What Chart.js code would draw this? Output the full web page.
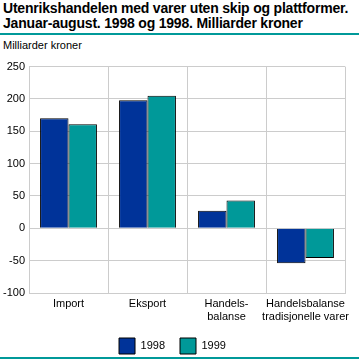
<!DOCTYPE html>
<html>
<head>
<meta charset="utf-8">
<script src="https://cdn.jsdelivr.net/npm/chart.js@4"></script>
<style>
  body { margin: 0; width: 359px; height: 361px; background: #fff; position: relative; overflow: hidden; font-family: "Liberation Sans", Arial, sans-serif; }
  #title { position: absolute; left: 0; top: 1px; width: 359px; padding-left: 3px; box-sizing: border-box;
           font-weight: bold; font-size: 14px; line-height: 15px; color: #000; letter-spacing: -0.2px;
           border-bottom: 2px solid #009999; padding-bottom: 2px; }
  #unit { position: absolute; left: 3px; top: 39px; font-size: 11px; color: #000; }
  #wrap { position: absolute; left: 0; top: 56px; width: 359px; height: 308px; }
  #bottomline { position: absolute; left: 0; top: 357px; width: 359px; height: 2px; background: #009999; }
</style>
</head>
<body>
<div id="title">Utenrikshandelen med varer uten skip og plattformer.<br>Januar-august. 1998 og 1998. Milliarder kroner</div>
<div id="unit">Milliarder kroner</div>
<div id="wrap"><canvas id="chart"></canvas></div>
<div id="bottomline"></div>
<script>
const categories = [["Import"], ["Eksport"], ["Handels-", "balanse"], ["Handelsbalanse", "tradisjonelle varer"]];
const values1998 = [170, 198, 27, -54];
const values1999 = [161, 205, 43, -46];
const seriesNames = ["1998", "1999"];

const chart = document.querySelector("#chart");

new Chart(chart, {
  type: "bar",
  data: {
    labels: categories,
    datasets: [
      {
        label: seriesNames[0],
        data: values1998,
        backgroundColor: "#003399",
        borderColor: "#000",
        borderWidth: 1,
      },
      {
        label: seriesNames[1],
        data: values1999,
        backgroundColor: "#009999",
        borderColor: "#000",
        borderWidth: 1,
      },
    ],
  },
  options: {
    responsive: true,
    maintainAspectRatio: false,
    animation: false,
    layout: { padding: { top: 4, right: 14, left: 0, bottom: 0 } },
    datasets: { bar: { barPercentage: 1, categoryPercentage: 0.72 } },
    plugins: {
      tooltip: { enabled: false },
      legend: {
        position: "bottom",
        labels: {
          boxWidth: 16,
          boxHeight: 16,
          padding: 15,
          color: "#000",
          font: { family: "Liberation Sans", size: 11 },
        },
      },
    },
    scales: {
      x: {
        grid: { color: "#cccccc", drawTicks: false, offset: true },
        border: { color: "#cccccc" },
        ticks: { color: "#000", font: { family: "Liberation Sans", size: 11 }, padding: 4, maxRotation: 0, autoSkip: false },
        afterFit: (scale) => { scale.height = 30; },
      },
      y: {
        min: -100,
        max: 250,
        ticks: { stepSize: 50, color: "#000", font: { family: "Liberation Sans", size: 11 }, padding: 4 },
        grid: { color: "#cccccc", drawTicks: false },
        border: { color: "#cccccc" },
        afterFit: (scale) => { scale.width = 29; },
      },
    },
  },
});
</script>
</body>
</html>
